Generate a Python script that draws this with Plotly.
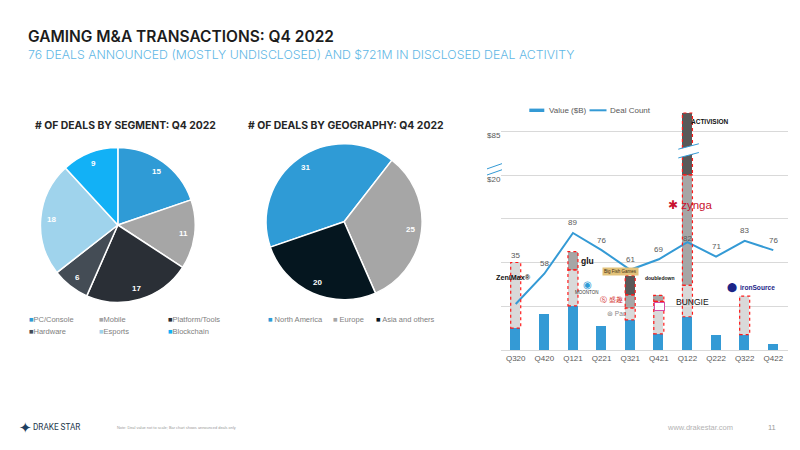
import math
import plotly.graph_objects as go

W, H = 800, 450


def px(x):
    return x / W


def py(y):
    return 1 - y / H


# ---------------- data ----------------
segments = ["PC/Console", "Mobile", "Platform/Tools", "Hardware", "Esports", "Blockchain"]
segment_deals = [15, 11, 17, 6, 18, 9]
segment_colors = ["#2f9bd6", "#a6a6a6", "#2a2f36", "#444c55", "#9fd3ec", "#12b1f6"]

regions = ["North America", "Europe", "Asia and others"]
region_deals = [31, 25, 20]
region_colors = ["#2f9bd6", "#a6a6a6", "#05161f"]

quarters = ["Q320", "Q420", "Q121", "Q221", "Q321", "Q421", "Q122", "Q222", "Q322", "Q422"]
value_bn = [2.5, 4.1, 5.05, 2.8, 3.45, 1.85, 3.8, 1.7, 1.75, 0.72]      # blue bars ($B)
mega_light = [7.5, 0, 4.1, 0, 1.35, 3.7, 3.6, 0, 4.4, 0]              # megadeal 1
mega_mid = [0, 0, 2.1, 0, 1.5, 0.7, 12.7, 0, 0, 0]                   # megadeal 2
mega_dark = [0, 0, 0, 0, 2.2, 0, 68.7, 0, 0, 0]                      # megadeal 3
deal_count = [35, 58, 89, 76, 61, 69, 82, 71, 83, 76]

y_tick_vals = [0, 5, 10, 15, 20, 25]
y_tick_text = ["", "", "", "", "$20", "$85"]
legend_names = ["Value ($B)", "Deal Count"]

# ---------------- style ----------------
BLUE = "#349ad5"
GRAY_TXT = "#595959"
LEG_TXT = "#808080"
FONT = "Liberation Sans"
HEAD = "Inter"
BREAK_AT = 20.0
COMPRESS = 0.103   # axis break: values above $20B are drawn compressed (not to scale)
BAR_W = 0.35


def disp(v):
    return v if v <= BREAK_AT else BREAK_AT + (v - BREAK_AT) * COMPRESS


fig = go.Figure()
annotations = []
shapes = []


def ann(x, y, text, size=8, color=GRAY_TXT, family=FONT, xanchor="left", weight="normal", **kw):
    annotations.append(dict(x=px(x), y=py(y), xref="paper", yref="paper", text=text,
                            showarrow=False, xanchor=xanchor, yanchor="middle",
                            font=dict(family=family, size=size, color=color, weight=weight), **kw))


# ---------------- pies ----------------
def add_pie(labels, values, colors, cx, cy, r, rotation):
    fig.add_trace(go.Pie(
        labels=labels, values=values, sort=False, direction="clockwise", rotation=rotation,
        marker=dict(colors=colors, line=dict(color="white", width=1.5)),
        textinfo="none",
        domain=dict(x=[px(cx - r), px(cx + r)], y=[py(cy + r), py(cy - r)]),
        showlegend=False, hoverinfo="skip"))
    total = sum(values)
    acc = 0
    for v in values:
        mid = math.radians(rotation + (acc + v / 2) / total * 360)
        acc += v
        ann(cx + 0.855 * r * math.sin(mid), cy - 0.855 * r * math.cos(mid), str(v),
            size=8, color="white", xanchor="center", weight="bold")


add_pie(segments, segment_deals, segment_colors, 117.85, 225.0, 77.4, 0)
add_pie(regions, region_deals, region_colors, 344.1, 221.75, 78.0, 251)

# ---------------- bars (stacked with explicit bases) ----------------
layers = [("value", value_bn, BLUE), ("m1", mega_light, "#d9d9d9"),
          ("m2", mega_mid, "#a6a6a6"), ("m3", mega_dark, "#595959")]
cum = [0.0] * len(quarters)
for name, vals, col in layers:
    bases, heights = [], []
    for i, v in enumerate(vals):
        lo, hi = cum[i], cum[i] + v
        if v > 0:
            bases.append(disp(lo))
            heights.append(disp(hi) - disp(lo))
            if name != "value":
                shapes.append(dict(type="rect", xref="x", yref="y",
                                   x0=i - BAR_W / 2, x1=i + BAR_W / 2,
                                   y0=disp(lo), y1=disp(hi),
                                   line=dict(color="#ff1a1a", width=1.2, dash="dot"),
                                   layer="above"))
        else:
            bases.append(None)
            heights.append(None)
        cum[i] = hi
    fig.add_trace(go.Bar(x=quarters, y=heights, base=bases, marker=dict(color=col, line=dict(width=0)),
                         width=BAR_W, showlegend=False, hoverinfo="skip", xaxis="x", yaxis="y",
                         name=legend_names[0] if name == "value" else name))

# deal count line
fig.add_trace(go.Scatter(x=quarters, y=deal_count, mode="lines", line=dict(color=BLUE, width=2),
                         xaxis="x", yaxis="y2", showlegend=False, hoverinfo="skip",
                         name=legend_names[1]))

# chart legend (compact, like the original)
shapes.append(dict(type="rect", xref="paper", yref="paper", x0=px(529.3), x1=px(544.3),
                   y0=py(112), y1=py(108.6), fillcolor=BLUE, line=dict(width=0)))
shapes.append(dict(type="line", xref="paper", yref="paper", x0=px(589.5), x1=px(606.5),
                   y0=py(110.3), y1=py(110.3), line=dict(color=BLUE, width=2)))
ann(546.5, 110.3, legend_names[0], size=8, color=GRAY_TXT)
ann(607.5, 110.3, legend_names[1], size=8, color=GRAY_TXT)

# axis break marks on the tallest bar
bi = quarters.index("Q122")
gx0, gx1 = bi - 0.32, bi + 0.40
g_lo, g_hi, tilt = 21.95, 22.95, 0.62
shapes.append(dict(type="path", xref="x", yref="y", layer="above",
                   path=f"M {gx0},{g_lo} L {gx1},{g_lo + tilt} L {gx1},{g_hi + tilt} L {gx0},{g_hi} Z",
                   fillcolor="white", line=dict(width=0)))
for yy in (g_lo, g_hi):
    shapes.append(dict(type="line", xref="x", yref="y", layer="above",
                       x0=gx0, x1=gx1, y0=yy, y1=yy + tilt, line=dict(color=BLUE, width=1)))
# axis break marks on the value axis
for yy in (BREAK_AT, BREAK_AT + 0.7):
    shapes.append(dict(type="line", xref="paper", yref="y", layer="above",
                       x0=px(487), x1=px(502), y0=yy, y1=yy + 0.6, line=dict(color=BLUE, width=1)))

# deal count labels
label_shift = {"Q320": 48, "Q122": 4}
for q, c in zip(quarters, deal_count):
    annotations.append(dict(x=q, y=c, xref="x", yref="y2", text=str(c), showarrow=False,
                            yshift=label_shift.get(q, 10), yanchor="middle",
                            font=dict(family=FONT, size=8, color=GRAY_TXT)))

# titles
ann(26, 37, "GAMING M&A TRANSACTIONS: Q4 2022", size=15.5, color="#1c1c1c", family=HEAD, weight=600)
ann(26, 54, "76 DEALS ANNOUNCED (MOSTLY UNDISCLOSED) AND $721M IN DISCLOSED DEAL ACTIVITY",
    size=12.3, color="#5fb7e5", family=HEAD, weight=300)
ann(33, 125, "# OF DEALS BY SEGMENT: Q4 2022", size=10.4, color="#262626", family=HEAD, weight=700)
ann(246, 125, "# OF DEALS BY GEOGRAPHY: Q4 2022", size=10.4, color="#262626", family=HEAD, weight=700)

# pie legends
seg_pos = [(27, 319), (97, 319), (166, 319), (27, 331.5), (97, 331.5), (166, 331.5)]
for (x, y), lab, col in zip(seg_pos, segments, segment_colors):
    ann(x, y, f"<span style='color:{col}'>■</span>{lab}", size=7.5, color=LEG_TXT)
geo_x = [265.5, 330.5, 373.5]
for x, lab, col in zip(geo_x, regions, region_colors):
    ann(x, 319.5, f"<span style='color:{col}'>■</span> {lab}", size=7.5, color=LEG_TXT)

# company logos (as text)
ann(513, 277, "ZeniMax®", size=7.2, color="#111", xanchor="center", weight="bold")
ann(587, 261, "glu", size=8.5, color="#111", xanchor="center", weight="bold")
ann(587, 284, "◉", size=10, color="#2f9bd6", xanchor="center")
ann(586, 292.5, "MOONTON", size=4.5, color="#333", xanchor="center")
ann(620, 271, "Big Fish Games", size=4.5, color="#3a2a10", xanchor="center", bgcolor="#e2c27a")
ann(611, 299, "Ⓢ 盛趣", size=6.5, color="#d22a2a", xanchor="center")
ann(605, 313, "⊛ Pac", size=6.5, color="#888", xanchor="left")
ann(659, 278, "doubledown", size=5, color="#111", xanchor="center", weight="bold")
ann(659, 306, "·····", size=4, color="#999", xanchor="center", bgcolor="white",
    bordercolor="#d44fa8", borderwidth=1, borderpad=1)
ann(692, 302, "BUNGIE", size=8.5, color="#111", xanchor="center")
ann(732, 287, "⬤", size=9, color="#1c2588", xanchor="center")
ann(738, 287, "ironSource", size=6.6, color="#1c2588", xanchor="left", weight="bold")
ann(710, 122, "ACTIVISION", size=6.5, color="#111", xanchor="center", weight="bold")
ann(690, 205, "✱ zynga", size=11.5, color="#c8102e", xanchor="center")

# footer
ann(25, 427, "✦", size=15, color="#1f4060", xanchor="center")
ann(31, 427, "DRAKE STAR", size=8.2, color="#24384c", family="Roboto")
ann(115, 427.5, "Note: Deal value not to scale; Bar chart shows announced deals only", size=3.9, color="#9a9a9a")
ann(665, 427, "www.drakestar.com", size=7.5, color="#b3b3b3")
ann(772, 427, "11", size=7.5, color="#9a9a9a", xanchor="center")

fig.update_layout(
    width=W, height=H, margin=dict(l=0, r=0, t=0, b=0),
    paper_bgcolor="white", plot_bgcolor="white",
    barmode="overlay", bargap=0, showlegend=False,
    xaxis=dict(domain=[px(501.4), px(787.6)], type="category", categoryorder="array",
               categoryarray=quarters, showgrid=False, showline=True, linecolor="#d9d9d9",
               linewidth=1, ticks="", tickfont=dict(family=FONT, size=8, color=GRAY_TXT),
               fixedrange=True, anchor="y"),
    yaxis=dict(domain=[py(350), py(100)], range=[0, 250 / 8.75], tickvals=y_tick_vals,
               ticktext=y_tick_text, showgrid=True, gridcolor="#d9d9d9", gridwidth=1,
               zeroline=False, showline=False, ticks="", ticklabelshift=4,
               tickfont=dict(family=FONT, size=8, color=GRAY_TXT), anchor="x"),
    yaxis2=dict(domain=[py(350), py(100)], range=[0, 250 / 1.3148], overlaying="y",
                visible=False, anchor="x"),
    shapes=shapes, annotations=annotations,
)

fig.write_html("out.html")
